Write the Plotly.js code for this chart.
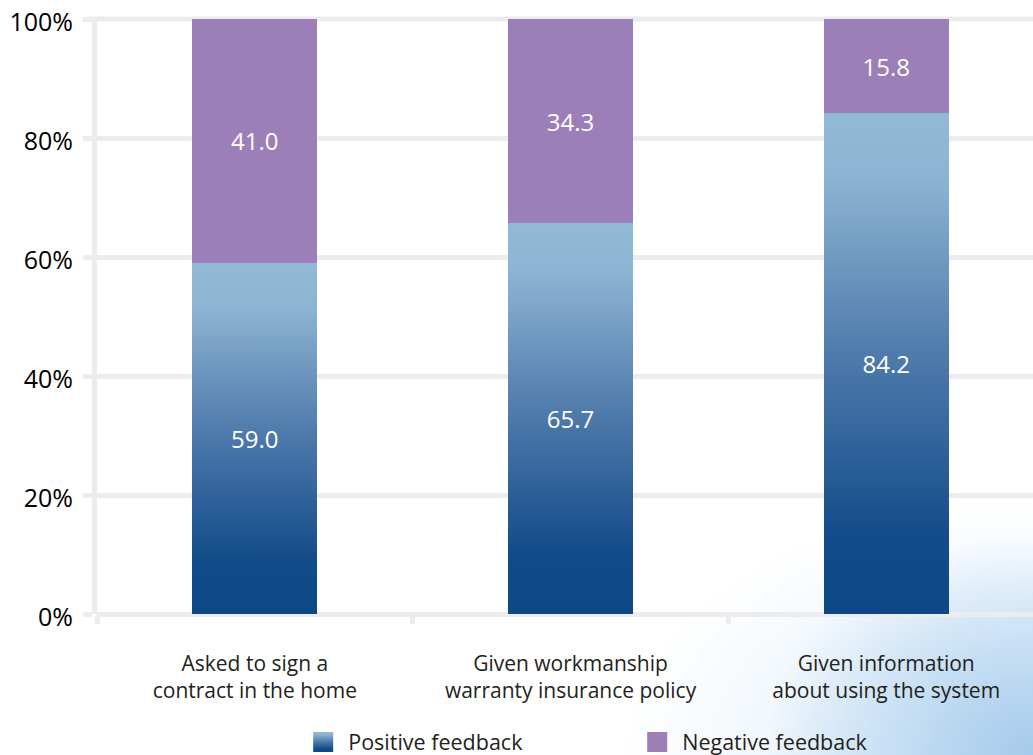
<!DOCTYPE html>
<html>
<head>
<meta charset="utf-8">
<script src="https://cdn.plot.ly/plotly-3.0.1.min.js"></script>
<style>
  html, body { margin: 0; padding: 0; }
  body {
    width: 1033px; height: 755px; overflow: hidden;
    background:
      radial-gradient(ellipse 270px 220px at 1033px 755px, rgba(165,201,234,0.95), rgba(188,217,242,0.65) 55%, rgba(255,255,255,0) 100%),
      radial-gradient(ellipse 390px 260px at 1010px 760px, rgba(198,223,244,0.85), rgba(222,237,249,0.45) 60%, rgba(255,255,255,0) 100%),
      #ffffff;
  }
  #chart { width: 1033px; height: 755px; }
</style>
</head>
<body>
<div id="chart"></div>
<script>
// Survey outcomes: share of positive vs negative feedback per question
const categories = ['cat1', 'cat2', 'cat3'];
const categoryLabels = [
  'Asked to sign a<br>contract in the home',
  'Given workmanship<br>warranty insurance policy',
  'Given information<br>about using the system'
];
const positive = [59.0, 65.7, 84.2];
const negative = [41.0, 34.3, 15.8];
const yTicks = [0, 20, 40, 60, 80, 100];
const yTickLabels = ['0%', '20%', '40%', '60%', '80%', '100%'];

const FONT = '"Open Sans", "Noto Sans", sans-serif';
const GRID = '#ececee';
const TEXT = '#231f20';

const traces = [
  {
    type: 'bar', name: 'Positive feedback',
    x: categories, y: positive,
    marker: { color: '#4a76a9' },
    text: positive.map(v => v.toFixed(1)),
    textposition: 'inside', insidetextanchor: 'middle',
    textfont: { family: FONT, size: 24, color: '#ffffff' },
    hoverinfo: 'none'
  },
  {
    type: 'bar', name: 'Negative feedback',
    x: categories, y: negative,
    marker: { color: '#9c7eb8' },
    text: negative.map(v => v.toFixed(1)),
    textposition: 'inside', insidetextanchor: 'middle',
    textfont: { family: FONT, size: 24, color: '#ffffff' },
    hoverinfo: 'none'
  }
];

const yTop = yTicks[yTicks.length - 1];

const layout = {
  width: 1033, height: 755,
  margin: { l: 97, r: 0, t: 19, b: 141, autoexpand: false },
  paper_bgcolor: 'rgba(0,0,0,0)',
  plot_bgcolor: 'rgba(0,0,0,0)',
  barmode: 'stack',
  bargap: 0.604,
  font: { family: FONT, color: TEXT },
  showlegend: true,
  legend: {
    orientation: 'h',
    x: 0.2203, xanchor: 'left',
    y: -0.215, yanchor: 'middle',
    font: { family: FONT, size: 21.5, color: TEXT },
    entrywidth: 289, entrywidthmode: 'pixels',
    traceorder: 'normal',
    bgcolor: 'rgba(0,0,0,0)'
  },
  // gridline along the top edge of the plot (the 100% line), behind the bars
  shapes: [{
    type: 'line', layer: 'below',
    xref: 'paper', x0: -0.0096, x1: 1,
    yref: 'paper', y0: 1, y1: 1,
    line: { color: GRID, width: 5 }
  }],
  xaxis: {
    type: 'category',
    range: [-0.5, 2.465],
    tickvals: categories, ticktext: categoryLabels,
    tickson: 'boundaries',
    ticks: 'outside', ticklen: 9, tickwidth: 5, tickcolor: GRID,
    showgrid: false, showline: false, zeroline: false,
    tickfont: { family: FONT, size: 21, color: TEXT },
    ticklabelstandoff: 35
  },
  yaxis: {
    range: [0, yTop],
    tickvals: yTicks, ticktext: yTickLabels,
    ticks: 'outside', ticklen: 9, tickwidth: 5, tickcolor: GRID,
    showgrid: true, gridcolor: GRID, gridwidth: 5,
    zeroline: true, zerolinecolor: GRID, zerolinewidth: 5,
    showline: true, linecolor: GRID, linewidth: 5,
    tickfont: { family: FONT, size: 25, color: '#000000' },
    ticklabelstandoff: 5
  }
};

Plotly.newPlot('chart', traces, layout, { staticPlot: true }).then(gd => {
  // Vertical light-to-dark gradient for the positive series (bars and legend swatch)
  const svg = gd.querySelector('.main-svg');
  const defs = svg.querySelector('defs');
  const ns = 'http://www.w3.org/2000/svg';
  const grad = document.createElementNS(ns, 'linearGradient');
  grad.setAttribute('id', 'posGrad');
  grad.setAttribute('x1', '0'); grad.setAttribute('y1', '0');
  grad.setAttribute('x2', '0'); grad.setAttribute('y2', '1');
  [['0', '#92b9d5'], ['0.12', '#8db5d3'], ['0.5', '#4c78aa'], ['0.85', '#124b89'], ['1', '#0e4886']]
    .forEach(([off, col]) => {
      const s = document.createElementNS(ns, 'stop');
      s.setAttribute('offset', off);
      s.setAttribute('stop-color', col);
      grad.appendChild(s);
    });
  defs.appendChild(grad);

  const barTraces = gd.querySelectorAll('.barlayer .trace');
  barTraces[0].querySelectorAll('.point path').forEach(p => { p.style.fill = 'url(#posGrad)'; });

  // Larger legend swatches with a little more room before the label
  gd.querySelectorAll('.legend .traces').forEach((t, i) => {
    const p = t.querySelector('.legendpoints path');
    if (p) {
      p.setAttribute('d', 'M10,10H-10V-10H10Z');
      if (i === 0) p.style.fill = 'url(#posGrad)';
    }
    const txt = t.querySelector('.legendtext');
    if (txt) txt.setAttribute('x', '45');
  });

  // Percent labels sit slightly below their gridlines (label groups only, not tick marks)
  gd.querySelectorAll('g.ytick').forEach(g => g.setAttribute('transform', 'translate(0,3)'));
});
</script>
</body>
</html>
